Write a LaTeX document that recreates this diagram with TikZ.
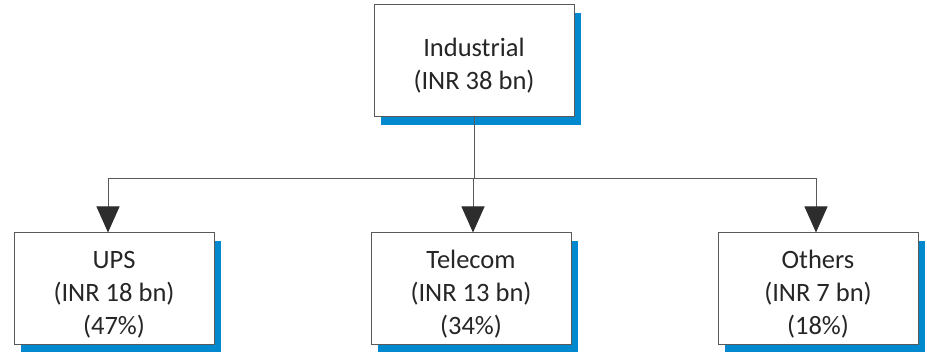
\documentclass[tikz,border=0pt]{standalone}
\usepackage{fontspec}
\setmainfont{Carlito}
\usetikzlibrary{arrows.meta,shadows}
\definecolor{shadowblue}{RGB}{0,137,207}
\definecolor{boxgray}{RGB}{89,89,89}
\definecolor{tipgray}{RGB}{45,45,45}
\newcommand{\liftline}{\rule{0pt}{28pt}}

\begin{document}
\begin{tikzpicture}[x=1pt, y=-1pt,
  segbox/.style={rectangle, draw=boxgray, line width=1pt, fill=white, minimum width=200pt, align=center, font=\fontsize{26.5}{33}\selectfont, text=black!85,
    drop shadow={shadow xshift=7pt, shadow yshift=-8pt, fill=shadowblue, opacity=1}},
  link/.style={draw=boxgray, line width=0.9pt},
  tip/.style={-{Triangle[width=23pt, length=26pt, fill=tipgray, color=tipgray]}}]

\useasboundingbox (0,0) rectangle (927,352);

% Top segment
\node[segbox, minimum height=112pt] (industrial) at (474,61) {\liftline Industrial\\(INR 38 bn)};

% Sub segments
\node[segbox, minimum height=112pt] (ups) at (114,289) {\liftline UPS\\(INR 18 bn)\\(47\%)};
\node[segbox, minimum height=112pt] (telecom) at (471,289) {\liftline Telecom\\(INR 13 bn)\\(34\%)};
\node[segbox, minimum height=112pt] (others) at (818,289) {\liftline Others\\(INR 7 bn)\\(18\%)};

% Connections
\coordinate (split) at (474,178);
\draw[link] (industrial.south) -- (split);
\draw[link, tip] (split) -| ([xshift=-6pt]ups.north);
\draw[link, tip] (split) -| ([xshift=2pt]telecom.north);
\draw[link, tip] (split) -| ([xshift=-2pt]others.north);
\end{tikzpicture}
\end{document}
